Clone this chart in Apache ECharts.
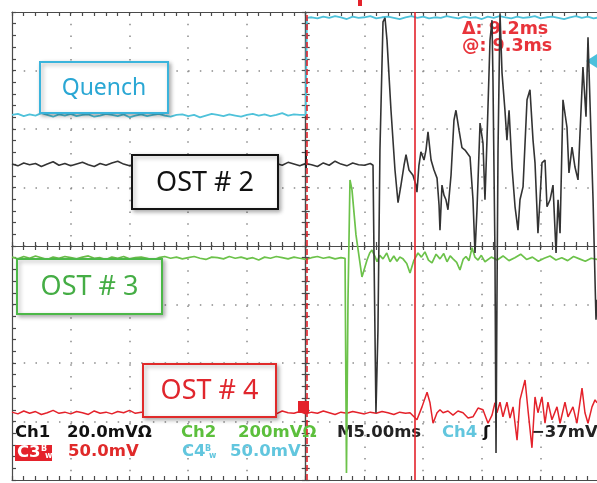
<!DOCTYPE html>
<html>
<head>
<meta charset="utf-8">
<title>Quench / OST traces</title>
<script src="https://cdn.jsdelivr.net/npm/echarts@6/dist/echarts.min.js"></script>
<style>
  html, body { margin: 0; padding: 0; background: #fff; }
  #chart { width: 597px; height: 483px; }
</style>
</head>
<body>
<div id="chart"></div>
<script>
// horizontal: ms (M5.00ms / div, 10 div), vertical: screen divisions (8 div)
const timeRange = [-25, 25]
const divRange = [-4, 4]
const cursorMs = [0.1, 9.3]

// baseline samples, one every 0.5 ms
const SAMPLE_MS = 0.5
// Quench (Ch4), from -25 ms
const ch4Pre = [
  2.24, 2.26, 2.22, 2.25, 2.23, 2.27, 2.24, 2.21, 2.25, 2.23,
  2.26, 2.22, 2.24, 2.25, 2.21, 2.23, 2.26, 2.24, 2.22, 2.25,
  2.20, 2.23, 2.25, 2.22, 2.24, 2.26, 2.23, 2.21, 2.24, 2.25,
  2.22, 2.24, 2.20, 2.23, 2.26, 2.24, 2.22, 2.25, 2.23, 2.21,
  2.24, 2.26, 2.23, 2.25, 2.22, 2.24, 2.27, 2.23, 2.25, 2.24
]
const ch4Edge = [[0.0, 2.24], [0.1, 3.90]]
// Quench (Ch4), from 0.5 ms
const ch4Post = [
  3.91, 3.89, 3.92, 3.90, 3.93, 3.91, 3.88, 3.92, 3.90, 3.91,
  3.93, 3.89, 3.91, 3.92, 3.90, 3.88, 3.91, 3.93, 3.90, 3.92,
  3.89, 3.91, 3.90, 3.93, 3.91, 3.89, 3.92, 3.90, 3.91, 3.88,
  3.92, 3.90, 3.93, 3.91, 3.89, 3.92, 3.90, 3.91, 3.93, 3.89,
  3.91, 3.92, 3.90, 3.88, 3.91, 3.93, 3.90, 3.92, 3.89, 3.91
]
// OST #2 (Ch1), from -25 ms
const ch1Pre = [
  1.40, 1.37, 1.42, 1.39, 1.41, 1.36, 1.40, 1.44, 1.38, 1.41,
  1.37, 1.40, 1.43, 1.39, 1.36, 1.41, 1.38, 1.42, 1.45, 1.40,
  1.37, 1.39, 1.36, 1.41, 1.38, 1.40, 1.37, 1.42, 1.39, 1.35,
  1.38, 1.41, 1.37, 1.40, 1.43, 1.38, 1.41, 1.36, 1.39, 1.42,
  1.38, 1.40, 1.44, 1.39, 1.36, 1.41, 1.38, 1.43, 1.40, 1.37,
  1.41, 1.39, 1.36, 1.42, 1.38, 1.45, 1.40, 1.37, 1.42, 1.39,
  1.38, 1.41
]
// [ms, div]
const ch1Burst = [
  [5.73, 1.38], [5.81, -0.07], [5.98, -2.85], [6.15, -1.44], [6.32, 1.64], [6.58, 3.83],
  [6.75, 3.90], [6.92, 3.52], [7.26, 2.32], [7.60, 1.30], [7.86, 0.74], [8.11, 1.04],
  [8.37, 1.38], [8.54, 1.56], [8.79, 1.30], [9.13, 1.21], [9.39, 1.04], [9.47, 0.92],
  [9.64, 1.38], [9.81, 1.61], [10.07, 1.47], [10.24, 1.64], [10.41, 1.95], [10.67, 1.47],
  [10.92, 1.30], [11.18, 1.16], [11.35, 0.70], [11.43, 0.27], [11.60, 1.04], [11.77, 0.87],
  [11.94, 0.79], [12.11, 0.62], [12.37, 1.21], [12.62, 2.15], [12.79, 2.32], [13.05, 1.98],
  [13.30, 1.68], [13.56, 1.64], [13.99, 1.52], [14.24, 0.79], [14.41, -0.12], [14.58, 0.62],
  [14.84, 2.10], [15.09, 1.76], [15.26, 0.79], [15.43, 1.81], [15.69, 3.52], [15.86, 3.86],
  [15.94, 2.84], [16.11, -0.12], [16.20, -3.54], [16.28, -0.92], [16.37, 1.64], [16.54, 3.98],
  [16.71, 2.96], [16.96, 2.32], [17.13, 1.81], [17.31, 2.32], [17.56, 1.35], [17.82, 0.67],
  [18.07, 0.27], [18.24, 0.79], [18.50, 1.01], [18.84, 2.50], [19.09, 2.67], [19.35, 1.81],
  [19.52, 1.42], [19.77, 0.22], [19.94, 0.79], [20.11, 1.42], [20.37, 1.47], [20.54, 0.67],
  [20.80, 0.79], [21.05, 1.04], [21.31, -0.12], [21.48, 0.79], [21.65, 0.22], [21.90, 2.50],
  [22.24, 2.03], [22.41, 1.25], [22.67, 1.69], [22.92, 1.35], [23.18, 1.13], [23.35, 1.93],
  [23.60, 3.06], [23.86, 2.21], [24.03, 3.57], [24.28, 1.93], [24.46, 0.79], [24.71, -1.26],
  [24.80, -0.92]
]
// OST #3 (Ch2), from -25 ms
const ch2Pre = [
  -0.19, -0.22, -0.18, -0.21, -0.17, -0.20, -0.23, -0.19, -0.21, -0.18,
  -0.20, -0.22, -0.19, -0.17, -0.21, -0.20, -0.23, -0.19, -0.21, -0.18,
  -0.22, -0.20, -0.19, -0.21, -0.24, -0.20, -0.18, -0.21, -0.19, -0.22,
  -0.20, -0.18, -0.21, -0.23, -0.19, -0.20, -0.22, -0.18, -0.21, -0.19,
  -0.22, -0.20, -0.24, -0.19, -0.21, -0.18, -0.20, -0.22, -0.19, -0.21,
  -0.23, -0.20, -0.18, -0.21, -0.19, -0.22, -0.20
]
const ch2Burst = [
  [3.35, -0.21], [3.47, -3.88], [3.60, -0.92], [3.77, 1.13], [3.94, 0.96], [4.28, 0.19],
  [4.79, -0.53], [5.22, -0.24], [5.45, -0.12], [5.64, -0.07], [5.90, -0.18], [6.07, -0.27],
  [6.30, -0.16], [6.58, -0.22], [6.90, -0.12], [7.18, -0.27], [7.50, -0.17], [7.77, -0.26],
  [8.00, -0.19], [8.28, -0.22], [8.60, -0.30], [8.88, -0.46], [9.20, -0.25], [9.56, -0.12],
  [9.85, -0.19], [10.15, -0.10], [10.45, -0.24], [10.75, -0.29], [11.10, -0.14], [11.43, -0.22],
  [11.75, -0.13], [12.03, -0.27], [12.30, -0.17], [12.54, -0.22], [12.85, -0.28], [13.13, -0.41],
  [13.40, -0.23], [13.64, -0.18], [13.90, -0.25], [14.16, -0.03], [14.40, -0.19], [14.67, -0.24],
  [14.95, -0.16], [15.26, -0.27], [15.80, -0.19], [16.30, -0.24], [16.80, -0.17], [17.30, -0.25],
  [17.80, -0.20], [18.30, -0.14], [18.80, -0.23], [19.30, -0.19], [19.80, -0.26], [20.30, -0.21],
  [20.80, -0.17], [21.30, -0.24], [21.80, -0.20], [22.30, -0.25], [22.80, -0.18], [23.30, -0.22],
  [23.80, -0.26], [24.30, -0.21], [24.80, -0.23]
]
// OST #4 (Ch3), from -25 ms
const ch3Pre = [
  -2.84, -2.87, -2.82, -2.86, -2.83, -2.88, -2.85, -2.81, -2.86, -2.84,
  -2.87, -2.83, -2.85, -2.88, -2.82, -2.86, -2.84, -2.87, -2.83, -2.85,
  -2.81, -2.86, -2.84, -2.88, -2.85, -2.83, -2.87, -2.84, -2.86, -2.82,
  -2.85, -2.88, -2.84, -2.86, -2.83, -2.85, -2.87, -2.82, -2.86, -2.84,
  -2.88, -2.85, -2.83, -2.86, -2.84, -2.87, -2.82, -2.85, -2.86, -2.83,
  -2.87, -2.84, -2.86, -2.82, -2.85, -2.88, -2.84, -2.86, -2.83, -2.85,
  -2.87, -2.84, -2.86, -2.83, -2.85, -2.88, -2.84, -2.86
]
const ch3Burst = [
  [8.88, -2.85], [9.47, -2.97], [9.90, -2.75], [10.33, -2.50], [10.58, -2.68], [10.84, -3.03],
  [11.18, -2.85], [11.43, -2.80], [11.69, -2.85], [12.11, -2.82], [12.54, -2.89], [12.96, -2.82],
  [13.39, -2.85], [13.82, -2.94], [14.24, -2.92], [14.67, -2.77], [15.09, -2.80], [15.52, -3.03],
  [15.86, -2.89], [16.11, -2.68], [16.28, -2.85], [16.54, -2.67], [16.79, -2.92], [17.13, -2.67],
  [17.39, -2.94], [17.65, -2.75], [17.99, -3.32], [18.24, -2.63], [18.67, -2.29], [18.92, -2.80],
  [19.26, -3.45], [19.52, -2.58], [19.77, -2.85], [20.11, -2.58], [20.37, -3.03], [20.62, -2.67],
  [20.96, -2.97], [21.39, -2.75], [21.65, -3.03], [22.07, -2.67], [22.33, -2.92], [22.75, -2.75],
  [23.09, -3.03], [23.52, -2.43], [23.77, -2.85], [24.03, -3.03], [24.37, -2.75], [24.63, -2.63],
  [24.80, -2.68]
]

function sampled(vals, t0) {
  return vals.map((v, i) => [t0 + i * SAMPLE_MS, v])
}
const quench = sampled(ch4Pre, -25).concat(ch4Edge, sampled(ch4Post, 0.5))
const ost2 = sampled(ch1Pre, -25).concat(ch1Burst)
const ost3 = sampled(ch2Pre, -25).concat(ch2Burst)
const ost4 = sampled(ch3Pre, -25).concat(ch3Burst)

const frame = { color: '#4a4a4a', width: 1.2 }
const dots = { color: '#8a8a8a', width: 1.5, type: [1.5, 10.24] }

function xAx(position, offset, inside, split) {
  return {
    type: 'value', min: timeRange[0], max: timeRange[1], interval: 5,
    position, offset,
    axisLine: { show: true, onZero: false, lineStyle: frame },
    axisTick: { show: true, inside, length: 4, lineStyle: frame },
    minorTick: { show: true, splitNumber: 5, length: 4, lineStyle: frame },
    axisLabel: { show: false },
    splitLine: { show: split, showMinLine: false, showMaxLine: false, lineStyle: dots }
  }
}
function yAx(offset, inside, split) {
  return {
    type: 'value', min: divRange[0], max: divRange[1], interval: 1,
    position: 'left', offset,
    axisLine: { show: true, onZero: false, lineStyle: frame },
    axisTick: { show: true, inside, length: 4, lineStyle: frame },
    minorTick: { show: true, splitNumber: 5, length: 4, lineStyle: frame },
    axisLabel: { show: false },
    splitLine: { show: split, showMinLine: false, showMaxLine: false, lineStyle: dots }
  }
}

function trace(name, data, color, width) {
  return {
    type: 'line', name, data, xAxisIndex: 0, yAxisIndex: 0,
    symbol: 'none', showSymbol: false, silent: true, animation: false,
    lineStyle: { color, width }
  }
}

const MONO = 'DejaVu Sans'
function txt(x, y, text, fill, size, opts) {
  return Object.assign({
    type: 'text', x, y, z: 1, silent: true,
    style: {
      text, fill, fontSize: size || 16.5, fontWeight: 'bold', fontFamily: MONO,
      textAlign: 'left', textVerticalAlign: 'middle'
    }
  }, opts || {})
}
function label(x, y, w, h, text, stroke, fill) {
  return {
    type: 'group', z: 100, silent: true,
    children: [
      { type: 'rect', z: 100, shape: { x, y, width: w, height: h },
        style: { fill: '#fff', stroke, lineWidth: 2, shadowBlur: 4, shadowOffsetX: 2,
                 shadowOffsetY: 2, shadowColor: 'rgba(0,0,0,0.3)' } },
      { type: 'text', z: 101, x: x + w / 2, y: y + h / 2 + 1,
        style: { text, fill, fontSize: text === 'Quench' ? 23 : 27, fontFamily: 'Noto Sans',
                 textAlign: 'center', textVerticalAlign: 'middle' } }
    ]
  }
}

const chart = echarts.init(document.getElementById('chart'), null, { renderer: 'canvas' })
chart.setOption({
  backgroundColor: '#fff',
  animation: false,
  grid: { left: 12, top: 12, width: 587.4, height: 468, containLabel: false, outerBoundsMode: 'none' },
  xAxis: [
    xAx('bottom', 0, true, true),
    xAx('top', 0, true, false),
    xAx('bottom', -234, true, false),
    xAx('bottom', -234, false, false)
  ],
  yAxis: [
    yAx(0, true, true),
    yAx(-293.7, true, false),
    yAx(-293.7, false, false)
  ],
  series: [
    trace('Quench', quench, '#4fc2da', 1.8),
    trace('OST # 4', ost4, '#e4222b', 1.5),
    trace('OST # 3', ost3, '#6cc24a', 1.7),
    trace('OST # 2', ost2, '#333333', 1.6),
    {
      type: 'line', data: [], xAxisIndex: 0, yAxisIndex: 0, silent: true, z: 5,
      markLine: {
        silent: true, symbol: ['none', 'none'], label: { show: false }, animation: false,
        lineStyle: { color: '#e3222b', width: 1.6, type: 'solid' },
        data: [
          { xAxis: cursorMs[0], lineStyle: { type: [6, 3] } },
          { xAxis: cursorMs[1] }
        ]
      }
    }
  ],
  graphic: [
    label(40, 62, 128, 51, 'Quench', '#3ab4dc', '#2aa7d4'),
    label(132, 155, 146, 54, 'OST # 2', '#141414', '#111'),
    label(17, 259, 145, 55, 'OST # 3', '#4cb848', '#45ad45'),
    label(143, 364, 133, 53, 'OST # 4', '#e02a2a', '#e0262d'),

    txt(462, 29, 'Δ: ' + (cursorMs[1] - cursorMs[0]).toFixed(1) + 'ms', '#e8333a', 17.5),
    txt(462, 46, '@: ' + cursorMs[1].toFixed(1) + 'ms', '#e8333a', 17.5),

    txt(15, 433, 'Ch1', '#111'),
    txt(67, 433, '20.0mVΩ', '#111'),
    txt(181, 433, 'Ch2', '#5cbf3c'),
    txt(238, 433, '200mVΩ', '#5cbf3c'),
    txt(337, 433, 'M5.00ms', '#222'),
    txt(442, 433, 'Ch4', '#62c6de'),
    txt(483, 433, 'ʃ', '#111'),
    txt(531, 433, '−37mV', '#222'),

    { type: 'rect', z: 1, silent: true, shape: { x: 15, y: 445, width: 37, height: 16 },
      style: { fill: '#e4222b' } },
    txt(17, 453, 'C3', '#fff'),
    txt(41, 449, 'B', '#fff', 8),
    txt(45, 456, 'w', '#fff', 8),
    txt(68, 452, '50.0mV', '#e02a2a'),
    txt(182, 452, 'C4', '#62c6de'),
    txt(205, 449, 'B', '#62c6de', 8),
    txt(209, 456, 'w', '#62c6de', 8),
    txt(230, 452, '50.0mV', '#62c6de'),

    // channel / trigger markers
    { type: 'polygon', z: 3, silent: true, shape: { points: [[586, 61], [597, 54], [597, 68]] },
      style: { fill: '#4cc0dc' } },
    { type: 'rect', z: 3, silent: true, shape: { x: 298, y: 401, width: 11, height: 12 },
      style: { fill: '#e4222b' } },
    { type: 'rect', z: 3, silent: true, shape: { x: 358, y: 0, width: 4, height: 6 },
      style: { fill: '#e4222b' } },
    { type: 'line', z: 3, silent: true, shape: { x1: 306, y1: 150, x2: 306, y2: 168 },
      style: { stroke: '#222', lineWidth: 2 } }
  ]
})
</script>
</body>
</html>
